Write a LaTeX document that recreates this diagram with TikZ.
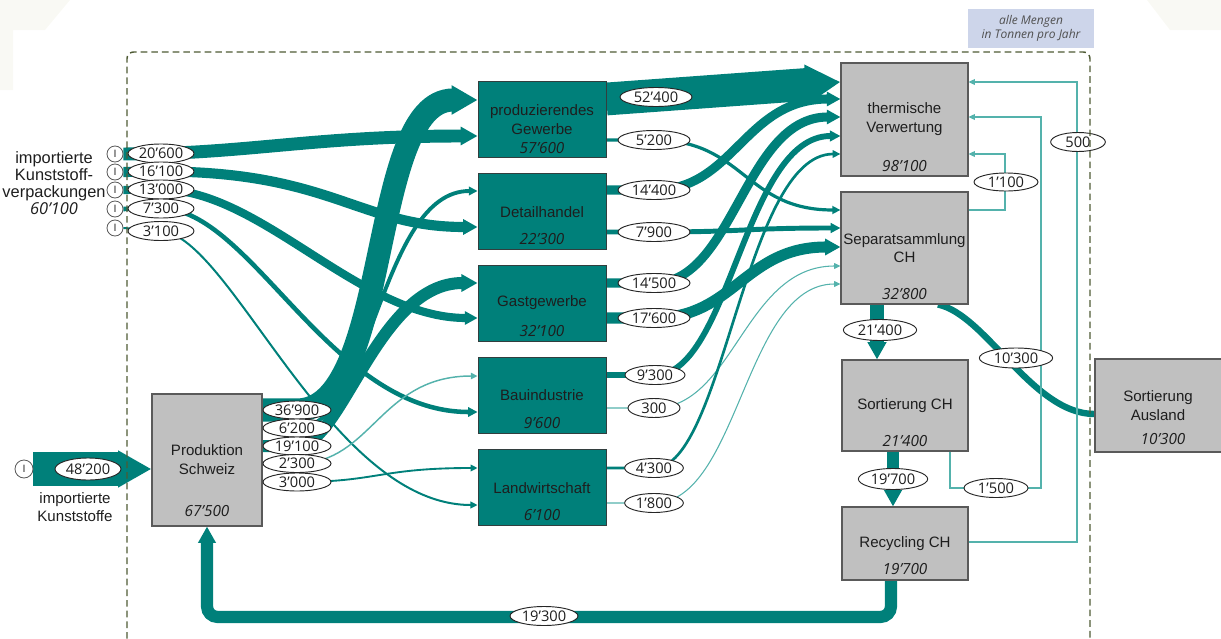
\documentclass[tikz,border=0pt]{standalone}
\usepackage{fontspec}
\setmainfont{Liberation Sans}
\newfontfamily\numfont{Open Sans}
\usetikzlibrary{arrows.meta,shapes.geometric}
\pgfdeclarelayer{flows}
\pgfsetlayers{flows,main}

\definecolor{flow}{RGB}{0,128,122}
\definecolor{flowlight}{RGB}{84,178,172}
\definecolor{boxgray}{RGB}{192,192,192}
\definecolor{boxline}{RGB}{90,90,90}
\definecolor{tealedge}{RGB}{50,62,62}
\definecolor{frameline}{RGB}{78,90,52}
\definecolor{notefill}{RGB}{205,213,234}
\definecolor{ink}{RGB}{30,30,30}
\definecolor{notetext}{RGB}{80,80,80}
\definecolor{faint}{RGB}{249,249,244}

\begin{document}
\begin{tikzpicture}[x=0.75pt,y=-0.75pt,
  tealbox/.style={draw=tealedge,fill=flow,line width=0.6pt,inner sep=0pt},
  graybox/.style={draw=boxline,fill=boxgray,line width=0.8pt,inner sep=0pt},
  lbl/.style={font=\fontsize{11.3}{13.75}\selectfont,text=ink,align=center,inner sep=0pt},
  tot/.style={font=\numfont\itshape\fontsize{11.5}{13.75}\selectfont,text=ink,inner sep=0pt},
  qty/.style={ellipse,draw=black!85,fill=white,line width=0.7pt,inner sep=0pt,
    text height=7.8pt,text depth=0pt,minimum height=14.25pt,minimum width=54pt,
    font=\numfont\fontsize{11}{13}\selectfont,text=ink},
  imp/.style={circle,draw=black!65,fill=white,line width=0.6pt,minimum size=12pt,
    inner sep=0pt,font=\fontsize{8}{9}\selectfont,text=black!80},
  band/.style={draw=flow,line width=#1pt},
  thinflow/.style={draw=flowlight,line width=0.8pt},
  flowhead/.style={-{Triangle[length=4pt 0.9,width=3.5pt 1.0]}},
  borderline/.style={draw=frameline,line width=1.1pt,dash pattern=on 5pt off 3pt,rounded corners=5pt},
]
\useasboundingbox (0,0) rectangle (1221,639);
\clip (0,0) rectangle (1221,639);

% faint page decoration in the corners
\fill[faint] (0,0) -- (70,0) -- (45,30) -- (13,30) -- (13,90) -- (0,90) -- cycle;
\fill[faint] (1147,0) -- (1221,0) -- (1221,30) -- (1170,30) -- cycle;

% unit note
\node[fill=notefill,minimum width=94.5pt,minimum height=29.25pt,inner sep=0pt,align=center,
  font=\numfont\itshape\fontsize{9}{10.5}\selectfont,text=notetext] (note) at (1031,28.5)
  {alle Mengen\\in Tonnen pro Jahr};

% ---------- process boxes ----------
\node[graybox,minimum width=82.5pt,minimum height=99pt] (prod) at (207,460) {};
\node[tealbox,minimum width=96pt,minimum height=57pt] (pg) at (542,119) {};
\node[tealbox,minimum width=96pt,minimum height=57pt] (dh) at (542,211) {};
\node[tealbox,minimum width=96pt,minimum height=57pt] (gg) at (542,303) {};
\node[tealbox,minimum width=96pt,minimum height=57pt] (bi) at (542,395) {};
\node[tealbox,minimum width=96pt,minimum height=57pt] (lw) at (542,487) {};
\node[graybox,minimum width=95.25pt,minimum height=84.75pt] (therm) at (904.5,119.5) {};
\node[graybox,minimum width=95.25pt,minimum height=84pt] (sep) at (904.5,248) {};
\node[graybox,minimum width=94.5pt,minimum height=68.25pt] (sortch) at (905,405.5) {};
\node[graybox,minimum width=94.5pt,minimum height=54.75pt] (rec) at (905,543.5) {};
\node[graybox,minimum width=101.25pt,minimum height=69.75pt] (aus) at (1162.5,405.5) {};

% box texts
\node[lbl] (prod-t) at (207,459.5) {Produktion\\Schweiz};
\node[tot] (prod-n) at (207,511) {67’500};
\node[lbl] (pg-t) at (542,119.5) {produzierendes\\Gewerbe};
\node[tot] (pg-n) at (542,148) {57’600};
\node[lbl] (dh-t) at (542,212) {Detailhandel};
\node[tot] (dh-n) at (542,239.5) {22’300};
\node[lbl] (gg-t) at (542,303) {Gastgewerbe};
\node[tot] (gg-n) at (542,331) {32’100};
\node[lbl] (bi-t) at (542,395) {Bauindustrie};
\node[tot] (bi-n) at (542,423) {9’600};
\node[lbl] (lw-t) at (542,488) {Landwirtschaft};
\node[tot] (lw-n) at (542,515) {6’100};
\node[lbl] (therm-t) at (904.5,119) {thermische\\Verwertung};
\node[tot] (therm-n) at (904.5,166) {98’100};
\node[lbl] (sep-t) at (904.5,248) {Separatsammlung\\CH};
\node[tot] (sep-n) at (904.5,294) {32’800};
\node[lbl] (sortch-t) at (905,406) {Sortierung CH};
\node[tot] (sortch-n) at (905,441.5) {21’400};
\node[lbl] (rec-t) at (905,544) {Recycling CH};
\node[tot] (rec-n) at (905,569) {19’700};
\node[lbl] (aus-t) at (1158,405.5) {Sortierung\\Ausland};
\node[tot] (aus-n) at (1163,439) {10’300};

% import labels
\node[lbl,font=\fontsize{12.3}{12.75}\selectfont] (imp-pack) at (54,183.5)
  {importierte\\Kunststoff-\\verpackungen\\{\numfont\itshape 60’100}};
\node[lbl] (imp-raw) at (75,507) {importierte\\Kunststoffe};

% import markers
\node[imp] (i1) at (115,154) {I};
\node[imp] (i2) at (115,172) {I};
\node[imp] (i3) at (115,190) {I};
\node[imp] (i4) at (115,209) {I};
\node[imp] (i5) at (115,228) {I};
\node[imp,minimum size=13.5pt] (i0) at (24,469) {I};

% ---------- quantity labels ----------
\node[qty,minimum width=49.5pt] (q206) at (161,153.5) {20’600};
\node[qty,minimum width=49.5pt] (q161) at (161,171.5) {16’100};
\node[qty,minimum width=49.5pt] (q130) at (161,189.5) {13’000};
\node[qty,minimum width=49.5pt] (q073) at (161,208.5) {7’300};
\node[qty,minimum width=49.5pt] (q031) at (161,231) {3’100};
\node[qty,minimum width=49.5pt,minimum height=16.5pt] (q482) at (88,469) {48’200};

\node[qty,minimum width=51pt,minimum height=13.5pt] (q369) at (297,410) {36’900};
\node[qty,minimum width=51pt,minimum height=13.5pt] (q062) at (297,428) {6’200};
\node[qty,minimum width=51pt,minimum height=13.5pt] (q191) at (297,446) {19’100};
\node[qty,minimum width=51pt,minimum height=13.5pt] (q023) at (297,463.5) {2’300};
\node[qty,minimum width=51pt,minimum height=13.5pt] (q030) at (297,482) {3’000};

\node[qty] (q524) at (656,97) {52’400};
\node[qty] (q052) at (654,140) {5’200};
\node[qty] (q144) at (654,190) {14’400};
\node[qty] (q079) at (654,232) {7’900};
\node[qty] (q145) at (654,283) {14’500};
\node[qty] (q176) at (654,318) {17’600};
\node[qty,minimum width=45pt] (q093) at (655,375) {9’300};
\node[qty,minimum width=39pt] (q003) at (654,408) {300};
\node[qty,minimum width=44pt] (q043) at (654,468) {4’300};
\node[qty,minimum width=44pt] (q018) at (654,503) {1’800};

\node[qty,minimum width=55pt,minimum height=15.75pt] (q214) at (880,330) {21’400};
\node[qty,minimum width=52pt,minimum height=15.75pt] (q197) at (893,479) {19’700};
\node[qty,minimum width=55pt,minimum height=15pt] (q103) at (1016,358) {10’300};
\node[qty,minimum width=48pt,minimum height=13.5pt] (q011) at (1006,182) {1’100};
\node[qty,minimum width=48pt] (q015) at (996,488) {1’500};
\node[qty,minimum width=41pt] (q005) at (1078,142) {500};
\node[qty,minimum width=51pt] (q193) at (544,616) {19’300};

% ---------- flows (behind boxes and labels) ----------
\begin{pgfonlayer}{flows}
  % imported raw material
  \draw[line width=25.5pt,draw=flow,-{Triangle[length=25pt,width=26pt]}]
    (i0.east) -- (prod.west |- i0);
  % imported packaging
  \draw[band=9.7,flowhead] (i1.east) -- (q206.center)
    .. controls +(100,-3) and +(-150,0) .. (pg.west |- 0,136);
  \draw[band=7.6,flowhead] (i2.east) -- (q161.center)
    .. controls +(170,0) and +(-118,0) .. (dh.west |- 0,227);
  \draw[band=6.1,flowhead] (i3.east) -- (q130.center)
    .. controls +(100,0) and +(-118,0) .. (gg.west |- 0,318);
  \draw[band=3.4,flowhead] (i4.east) -- (q073.center)
    .. controls +(90,0) and +(-148,0) .. (bi.west |- 0,412);
  \draw[band=1.5,flowhead] (i5.east) -- (q031.center)
    .. controls +(70,5) and +(-148,0) .. (lw.west |- 0,505);
  % domestic production
  \draw[band=17.3,flowhead] (prod.east |- q369) -- (q369.center)
    .. controls +(95,0) and +(-110,0) .. (pg.west |- 0,100);
  \draw[band=2.9,flowhead] (prod.east |- q062) -- (q062.center)
    .. controls +(75,0) and +(-98,0) .. (dh.west |- 0,191);
  \draw[band=9.0,flowhead] (prod.east |- q191) -- (q191.center)
    .. controls +(45,0) and +(-100,0) .. (gg.west |- 0,283);
  \draw[thinflow,line width=1.1pt,flowhead] (prod.east |- q023) -- (q023.center)
    .. controls +(75,0) and +(-98,0) .. (bi.west |- 0,376);
  \draw[band=1.4,flowhead] (prod.east |- q030) -- (q030.center)
    .. controls +(80,0) and +(-98,0) .. (lw.west |- 0,468);
  % consumers to disposal
  \draw[band=24.6,flowhead] (pg.east |- 0,99) -- (therm.west |- 0,82);
  \draw[band=2.4,flowhead] (pg.east |- q052) -- (q052.center)
    .. controls +(90,0) and +(-96,0) .. (sep.west |- 0,210);
  \draw[band=6.8,flowhead] (dh.east |- q144) -- (q144.center)
    .. controls +(80,0) and +(-96,0) .. (therm.west |- 0,99);
  \draw[band=3.7,flowhead] (dh.east |- q079) -- (q079.center)
    .. controls +(90,0) and +(-96,0) .. (sep.west |- 0,228);
  \draw[band=6.8,flowhead] (gg.east |- q145) -- (q145.center)
    .. controls +(80,0) and +(-96,0) .. (therm.west |- 0,117);
  \draw[band=8.3,flowhead] (gg.east |- q176) -- (q176.center)
    .. controls +(80,0) and +(-96,0) .. (sep.west |- 0,247);
  \draw[band=4.4,flowhead] (bi.east |- q093) -- (q093.center)
    .. controls +(75,0) and +(-96,0) .. (therm.west |- 0,136);
  \draw[thinflow,flowhead] (bi.east |- q003) -- (q003.center)
    .. controls +(80,0) and +(-96,0) .. (sep.west |- 0,266);
  \draw[band=2.0,flowhead] (lw.east |- q043) -- (q043.center)
    .. controls +(70,0) and +(-96,0) .. (therm.west |- 0,154);
  \draw[thinflow,flowhead] (lw.east |- q018) -- (q018.center)
    .. controls +(85,0) and +(-96,0) .. (sep.west |- 0,284);
  % collection, sorting and recycling
  \draw[band=10.1,flowhead] (sep.south -| 877,0) -- (sortch.north -| 877,0);
  \draw[band=9.3,flowhead] (sortch.south -| 893,0) -- (rec.north -| 893,0);
  \draw[band=4.8] (sep.south -| 938,0) .. controls +(48,10) and +(-62,0) .. (aus.west |- 0,414);
  \draw[band=9.1,flowhead,rounded corners=8pt] (rec.south -| 891,0) -- (891,617)
    -- (207,617) -- (prod.south);
  \draw[thinflow,flowhead] (sep.east |- 0,210) -- (1005,210) -- (1005,154)
    -- (therm.east |- 0,154);
  \draw[thinflow,flowhead] (sortch.south -| 950,0) -- (950,488) -- (1041,488)
    -- (1041,117) -- (therm.east |- 0,117);
  \draw[thinflow,flowhead] (rec.east |- 0,542) -- (1077,542) -- (1077,82)
    -- (therm.east |- 0,82);
\end{pgfonlayer}

% system boundary
\draw[borderline] (127,660) -- (127,52) -- (1090,52) -- (1090,660);
\end{tikzpicture}
\end{document}
